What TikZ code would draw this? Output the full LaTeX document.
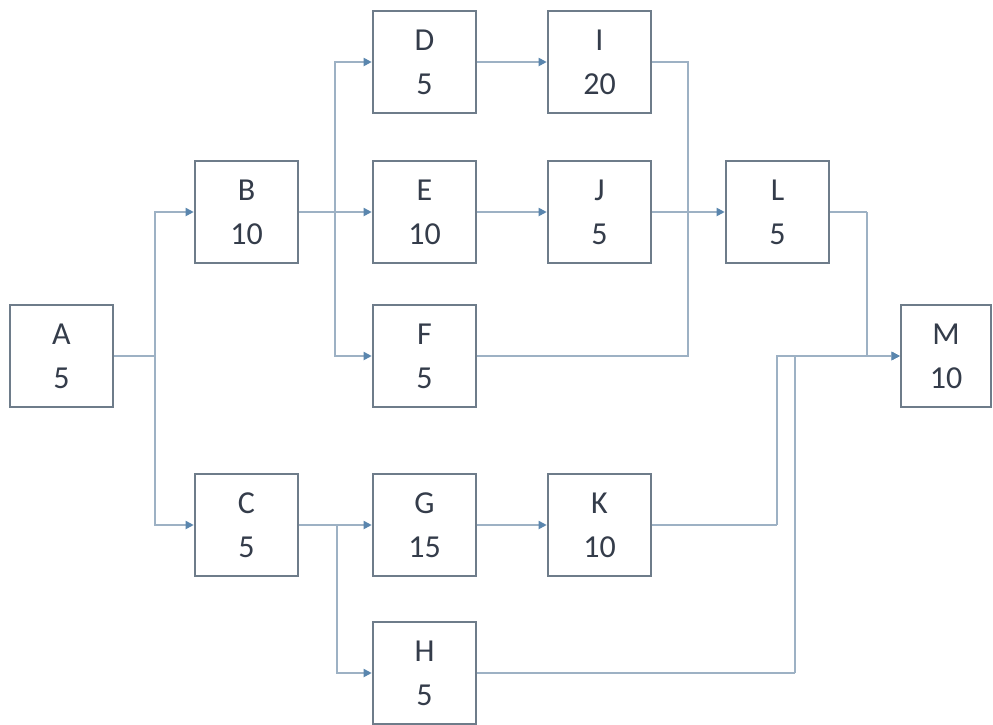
\documentclass[tikz,border=0pt]{standalone}
\usepackage{fontspec}
\setmainfont{Carlito}
\usetikzlibrary{arrows.meta}
\definecolor{txt}{HTML}{343C4A}
\definecolor{boxc}{HTML}{6E7C8A}
\definecolor{linec}{HTML}{9DB1C4}
\definecolor{arrc}{HTML}{5A86AE}
\begin{document}
\begin{tikzpicture}[x=1pt,y=-1pt,
  task/.style={draw=boxc,line width=2.6pt,fill=white,minimum width=103pt,minimum height=102pt,
    inner sep=0pt,align=center,text=txt,font=\fontsize{32}{44}\selectfont},
  conn/.style={draw=linec,line width=1.8pt},
  arr/.style={conn,-{Triangle[length=8pt,width=8pt,color=arrc]}}]
\useasboundingbox (0,0) rectangle (993,724);
\fill[white] (0,0) rectangle (993,724);
\node[task] (A) at (61.5,356) {A\\5};
\node[task] (B) at (246.5,212) {B\\10};
\node[task] (C) at (246.5,525) {C\\5};
\node[task] (D) at (424.5,62) {D\\5};
\node[task] (E) at (424.5,212) {E\\10};
\node[task] (F) at (424.5,356) {F\\5};
\node[task] (G) at (424.5,525) {G\\15};
\node[task] (H) at (424.5,673) {H\\5};
\node[task] (I) at (599.5,62) {I\\20};
\node[task] (J) at (599.5,212) {J\\5};
\node[task] (K) at (599.5,525) {K\\10};
\node[task] (L) at (777.5,212) {L\\5};
\node[task,minimum width=90pt] (M) at (946,356) {M\\10};
% junction coordinates
\coordinate (ja) at (155,356);
\coordinate (jb) at (335,212);
\coordinate (jc) at (337,525);
\coordinate (jl) at (688,212);
\coordinate (jm) at (867,212);
\coordinate (jk) at (777,525);
\coordinate (jh) at (795,673);
\draw[conn] (A.east) -- (ja);
\draw[arr] (ja) |- (B.west);
\draw[arr] (ja) |- (C.west);
\draw[conn] (B.east) -- (jb);
\draw[arr] (jb) -- (E.west);
\draw[arr] (jb) |- (D.west);
\draw[arr] (jb) |- (F.west);
\draw[conn] (C.east) -- (jc);
\draw[arr] (jc) -- (G.west);
\draw[arr] (jc) |- (H.west);
\draw[arr] (D.east) -- (I.west);
\draw[arr] (E.east) -- (J.west);
\draw[arr] (G.east) -- (K.west);
\draw[conn] (I.east) -| (jl);
\draw[conn] (F.east) -| (jl);
\draw[arr] (J.east) -- (L.west);
\draw[conn] (L.east) -- (jm);
\draw[arr] (jm) |- (M.west);
\draw[conn] (K.east) -- (jk);
\draw[arr] (jk) |- (M.west);
\draw[conn] (H.east) -- (jh);
\draw[arr] (jh) |- (M.west);
\end{tikzpicture}
\end{document}
